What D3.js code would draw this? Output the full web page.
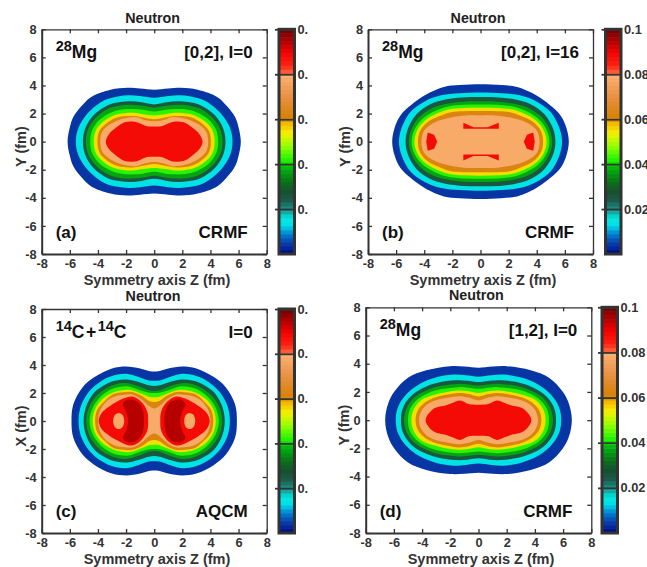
<!DOCTYPE html>
<html>
<head>
<meta charset="utf-8">
<script src="https://cdn.jsdelivr.net/npm/d3@7"></script>
<style>
  html, body { margin: 0; padding: 0; background: #fff; }
  svg { display: block; }
  text { font-family: "Liberation Sans", Arial, sans-serif; font-weight: bold; }
</style>
</head>
<body>
<div id="d3-area"></div>
<script>
// values: fm, first quadrant, outer ring to inner ring
let bandLevels = [0.004, 0.014, 0.0255, 0.037, 0.0425, 0.0555, 0.063, 0.078, 0.088];
let topLevel = 0.0945;
let axisTicks = [-8, -6, -4, -2, 0, 2, 4, 6, 8];
let barTicks = [0.02, 0.04, 0.06, 0.08, 0.1];

let ringsA = [
    [[6.16,0],[6.0,1],[5.75,1.75],[5.2,2.5],[4.5,3.17],[3.1,3.7],[1.9,3.84],[1,3.78],[0,3.7]],
    [[5.57,0],[5.4,.95],[4.74,2],[3.55,2.94],[2.6,3.22],[1.8,3.3],[1,3.25],[0,3.13]],
    [[5.07,0],[4.9,.95],[4.3,1.9],[3.3,2.6],[2.4,2.82],[1.7,2.87],[.9,2.8],[0,2.65]],
    [[4.86,0],[4.7,.9],[4.1,1.75],[3.2,2.37],[2.3,2.6],[1.6,2.63],[.8,2.55],[0,2.42]],
    [[4.55,0],[4.4,.85],[3.85,1.6],[3.0,2.1],[2.2,2.3],[1.5,2.33],[.8,2.28],[0,2.15]],
    [[4.3,0],[4.15,.8],[3.6,1.45],[2.8,1.9],[2.1,2.03],[1.5,2.05],[.8,1.95],[0,1.87]],
    [[4.03,0],[3.9,.75],[3.4,1.3],[2.7,1.7],[2,1.82],[1.4,1.82],[.7,1.7],[0,1.6]],
    [[3.84,0],[3.7,.7],[3.2,1.2],[2.5,1.55],[1.8,1.72],[1.3,1.75],[.7,1.55],[0,1.45]],
    [[3.44,0],[3.2,.55],[2.7,1.0],[2.1,1.38],[1.4,1.42],[1,1.3],[.5,1.1],[0,1.08]]
];
let ringsB = [
    [[6.28,0],[6.1,1],[5.69,1.87],[4.5,2.94],[3.6,3.5],[2.6,3.9],[1.5,4.03],[0,4.08]],
    [[5.8,0],[5.6,1],[5.0,2.1],[4,2.85],[2.8,3.3],[1.5,3.45],[0,3.5]],
    [[5.33,0],[5.15,.95],[4.55,1.95],[3.6,2.65],[2.5,3.0],[1.3,3.15],[0,3.18]],
    [[5.1,0],[4.9,.9],[4.3,1.8],[3.4,2.4],[2.4,2.7],[1.2,2.85],[0,2.87]],
    [[4.9,0],[4.7,.85],[4.1,1.65],[3.2,2.2],[2.3,2.5],[1.2,2.62],[0,2.65]],
    [[4.7,0],[4.5,.8],[3.95,1.5],[3.1,2.0],[2.2,2.3],[1.2,2.4],[0,2.42]],
    [[4.45,0],[4.3,.75],[3.75,1.4],[2.95,1.8],[2.1,2.1],[1.2,2.17],[0,2.18]],
    [[4.2,0],[4.0,.8],[3.3,1.35],[2.2,1.7],[1.2,1.85],[0,1.87]]
];
let ringsC = [
    [[5.88,0],[5.75,1.2],[5.1,2.4],[4.3,3.1],[3,3.75],[2,3.89],[1,3.75],[.3,3.55],[0,3.53]],
    [[5.38,0],[5.2,1.1],[4.6,2.14],[3.7,2.9],[2.9,3.25],[2,3.37],[1.1,3.15],[.4,2.9],[0,2.87]],
    [[5.02,0],[4.85,1.0],[4.3,2.0],[3.4,2.65],[2.7,2.9],[1.9,2.96],[1,2.75],[.4,2.55],[0,2.5]],
    [[4.83,0],[4.65,.95],[4.1,1.8],[3.3,2.4],[2.5,2.68],[1.9,2.7],[1,2.45],[.4,2.2],[0,2.15]],
    [[4.6,0],[4.4,.9],[3.9,1.65],[3.1,2.25],[2.4,2.45],[1.8,2.47],[1,2.2],[.35,2.02],[0,2.0]],
    [[4.38,0],[4.2,.85],[3.7,1.55],[3,2.0],[2.3,2.2],[1.7,2.22],[.9,1.95],[.3,1.72],[0,1.7]],
    [[4.2,0],[4.05,.8],[3.55,1.4],[2.9,1.92],[2.2,2.05],[1.6,2.07],[.9,1.8],[.35,1.42],[0,1.35]],
    [[4.0,0],[3.85,.75],[3.4,1.4],[2.8,1.75],[2.1,1.88],[1.5,1.88],[.9,1.55],[.35,1.05],[0,.9]]
];
let ringsD = [
    [[6.62,0],[6.4,1.2],[5.95,2.04],[5,3.0],[3.7,3.53],[2,3.82],[1,3.8],[0,3.72]],
    [[5.87,0],[5.7,.95],[5.1,1.85],[4.2,2.55],[3.1,3.0],[1.8,3.23],[.9,3.18],[0,3.08]],
    [[5.5,0],[5.35,.9],[4.8,1.7],[3.9,2.3],[2.9,2.65],[1.6,2.83],[.8,2.8],[0,2.7]],
    [[5.28,0],[5.1,.85],[4.55,1.6],[3.7,2.1],[2.8,2.4],[1.5,2.57],[.7,2.53],[0,2.45]],
    [[5,0],[4.85,.8],[4.3,1.5],[3.5,1.95],[2.6,2.2],[1.4,2.34],[.7,2.3],[0,2.22]],
    [[4.76,0],[4.6,.75],[4.1,1.4],[3.3,1.75],[2.5,1.95],[1.4,2.1],[.7,2.05],[0,1.92]],
    [[4.46,0],[4.3,.7],[3.8,1.25],[3.1,1.6],[2.3,1.8],[1.4,1.93],[.7,1.85],[0,1.68]],
    [[4.22,0],[4.05,.65],[3.6,1.15],[2.9,1.45],[2.1,1.6],[1.4,1.7],[.7,1.6],[0,1.4]],
    [[3.75,0],[3.2,.79],[2.3,1.05],[1.9,1.2],[1.3,1.4],[.7,1.15],[0,1.1]]
];

// closed pieces that sit off the centre of panels b and c
let sideBlobB = [[3.08,0],[3.3,.5],[3.75,.65],[3.86,0],[3.75,-.65],[3.3,-.5]];
let bowTieB = [[-1.22,1.35],[-.5,1.02],[.5,1.02],[1.3,1.35],[1.3,.92],[-1.22,.92]];
let redLobeC = [[.43,0],[.5,.7],[.9,1.35],[1.55,1.75],[2.2,1.6],[2.75,1.33],[3.4,.9],[3.75,.55],[3.95,0],[3.75,-.55],[3.4,-.9],[2.75,-1.33],[2.2,-1.6],[1.55,-1.75],[.9,-1.35],[.5,-.7]];
let darkLobeC = [[.72,0],[.82,.8],[1.1,1.3],[1.55,1.52],[2.05,1.45],[2.22,1.2],[2.0,.7],[1.85,0],[2.0,-.7],[2.22,-1.2],[2.05,-1.45],[1.55,-1.52],[1.1,-1.3],[.82,-.8]];
let holeLobeC = [[2.13,0],[2.25,.42],[2.53,.57],[2.8,.42],[2.92,0],[2.8,-.42],[2.53,-.57],[2.25,-.42]];

// colormap of the colour bars
let mapValues = [0, .002, .005, .009, .013, .016, .02, .024, .028, .032, .038, .041, .048, .054, .059, .0605, .07, .0795, .0805, .084, .09, .095, .1];
let mapColors = ["#000080", "#00209a", "#0a3fa8", "#0080d0", "#00e0e8", "#00e8e0", "#1a9088", "#1d5a48", "#185030", "#0a7018", "#00b010", "#10f000", "#90ff00", "#f8f000", "#f0b000", "#d88000", "#e89040", "#fbb070", "#ff6840", "#ff2010", "#f00000", "#b00000", "#700000"];
let colorMap = d3.scaleLinear().domain(mapValues).range(mapColors).clamp(true);

let width = 647;
let height = 567;
let darkLine = "#333";

let svg = d3.select("#d3-area").append("svg").attr("width", width).attr("height", height);
let defs = svg.append("defs");

// colour labels of the left column are cut off at the edge of the pane in the original
defs.append("clipPath").attr("id", "cut-left").append("rect")
    .attr("x", 0).attr("y", 0).attr("width", 308).attr("height", height);

let smooth = d3.line().curve(d3.curveCatmullRomClosed.alpha(0.5));
let sharp = d3.line().curve(d3.curveLinearClosed);

//从第一象限补全闭合轮廓
function fullRing (q) {
    let top = q.concat(q.slice(1, -1).reverse().map(p => [-p[0], p[1]]), [[-q[0][0], q[0][1]]]);
    let bottom = top.slice(1, -1).reverse().map(p => [p[0], -p[1]]);
    return top.concat(bottom);
}

function drawPanel (p) {
    let x = d3.scaleLinear().domain([-8, 8]).range([p.left, p.right]);
    let y = d3.scaleLinear().domain([-8, 8]).range([p.bottom, p.top]);
    let pix = pts => pts.map(d => [x(d[0]), y(d[1])]);
    let g = svg.append("g");

    p.rings.forEach((ring, i) => {
        g.append("path").attr("d", smooth(pix(fullRing(ring)))).attr("fill", colorMap(bandLevels[i]));
    });
    p.pieces.forEach(piece => {
        let line = piece.sharp ? sharp : smooth;
        g.append("path").attr("d", line(pix(piece.pts))).attr("fill", colorMap(piece.level));
    });

    // frame and inward ticks on all four sides
    let axes = [
        [d3.axisBottom(x), 0, p.bottom, true, 2],
        [d3.axisTop(x), 0, p.top, false, 1.3],
        [d3.axisLeft(y), p.left, 0, true, 2],
        [d3.axisRight(y), p.right, 0, false, 1.3]
    ];
    axes.forEach(a => {
        let axis = a[0].tickValues(axisTicks).tickSizeInner(-4).tickSizeOuter(0).tickPadding(a[3] ? 5 : 0)
            .tickFormat(a[3] ? (d => String(d)) : "");
        let ag = svg.append("g").attr("transform", `translate(${a[1]},${a[2]})`).call(axis);
        ag.selectAll(".domain").attr("stroke", darkLine).attr("stroke-width", a[4]);
        ag.selectAll(".tick line").attr("stroke", darkLine).attr("stroke-width", 1.3);
        ag.selectAll(".tick text").attr("fill", darkLine).attr("font-size", 12.8);
    });

    let label = (px, py, txt, size, anchor, fill) => svg.append("text").attr("x", px).attr("y", py)
        .attr("font-size", size).attr("text-anchor", anchor || "start").attr("fill", fill || "#111").text(txt);

    label(p.titleX, p.titleY, "Neutron", 14.3, "middle", "#222");
    label(p.xLabelX, p.bottom + 31, "Symmetry axis Z (fm)", 14.5, "middle", darkLine);
    svg.append("text")
        .attr("transform", `translate(${p.yLabelX},${(p.top + p.bottom) / 2 + 5}) rotate(-90)`)
        .attr("font-size", 14.5).attr("text-anchor", "middle").attr("fill", darkLine).text(p.yLabel);

    // superscripts sit 7px above the line
    let head = svg.append("text").attr("x", p.left + 14).attr("y", p.top + 29).attr("fill", "#111");
    let raised = false;
    p.nuclide.forEach(part => {
        let shift = (part[1] ? -7 : 0) + (raised ? 7 : 0);
        raised = part[1];
        head.append("tspan").attr("font-size", part[1] ? 14.5 : 17.5).attr("dy", shift)
            .attr("dx", part[2] || 0).text(part[0]);
    });

    label(p.right - 14, p.top + 29, p.state, 17, "end");
    label(p.left + 14, p.bottom - 16, p.tag, 17);
    label(p.right - 19, p.bottom - 16, p.model, 17, "end");

    drawBar(p);
}

function drawBar (p) {
    let barY = d3.scaleLinear().domain([0, 0.1]).range([p.bottom, p.top]);
    let bar = svg.append("g");
    if (p.clip) bar.attr("clip-path", "url(#cut-left)");
    let steps = d3.range(0, 0.1, 0.1 / 56);
    bar.selectAll("rect.step").data(steps).enter().append("rect").attr("class", "step")
        .attr("x", p.barLeft).attr("width", p.barRight - p.barLeft)
        .attr("y", d => barY(d + 0.1 / 56)).attr("height", d => barY(d) - barY(d + 0.1 / 56) + 0.5)
        .attr("fill", d => colorMap(d + 0.05 / 56));
    bar.append("rect")
        .attr("x", p.barLeft).attr("y", p.top).attr("width", p.barRight - p.barLeft).attr("height", p.bottom - p.top)
        .attr("fill", "none").attr("stroke", darkLine).attr("stroke-width", 3);

    let axis = d3.axisRight(barY).tickValues(barTicks).tickSizeInner(p.barRight - p.barLeft + 4)
        .tickSizeOuter(0).tickPadding(3).tickFormat(d => String(d));
    let ag = bar.append("g").attr("transform", `translate(${p.barLeft - 4},0)`).call(axis);
    ag.select(".domain").remove();
    ag.selectAll(".tick line").attr("stroke", darkLine).attr("stroke-width", 1.8);
    ag.selectAll(".tick text").attr("fill", darkLine).attr("font-size", 12.8);
}

drawPanel({
    left: 41.7, right: 266.7, top: 29.3, bottom: 254, titleX: 152.7, titleY: 22.7, xLabelX: 157, yLabelX: 25.6,
    barLeft: 279, barRight: 294.5, clip: true, rings: ringsA, pieces: [],
    yLabel: "Y (fm)", nuclide: [["28", true], ["Mg", false]], state: "[0,2], I=0", tag: "(a)", model: "CRMF"
});
drawPanel({
    left: 368, right: 593, top: 29.3, bottom: 254, titleX: 478, titleY: 22.7, xLabelX: 483, yLabelX: 349.7,
    barLeft: 605.5, barRight: 621, clip: false, rings: ringsB,
    pieces: [
        {level: bandLevels[8], pts: sideBlobB, sharp: true},
        {level: bandLevels[8], pts: sideBlobB.map(d => [-d[0], d[1]]), sharp: true},
        {level: bandLevels[8], pts: bowTieB, sharp: true},
        {level: bandLevels[8], pts: bowTieB.map(d => [d[0], -d[1]]), sharp: true}
    ],
    yLabel: "Y (fm)", nuclide: [["28", true], ["Mg", false]], state: "[0,2], I=16", tag: "(b)", model: "CRMF"
});
drawPanel({
    left: 41.7, right: 266.7, top: 309, bottom: 533, titleX: 153, titleY: 301.3, xLabelX: 157, yLabelX: 25.6,
    barLeft: 279, barRight: 294.5, clip: true, rings: ringsC,
    pieces: [
        {level: bandLevels[8], pts: redLobeC},
        {level: bandLevels[8], pts: redLobeC.map(d => [-d[0], d[1]])},
        {level: topLevel, pts: darkLobeC},
        {level: topLevel, pts: darkLobeC.map(d => [-d[0], d[1]])},
        {level: bandLevels[7], pts: holeLobeC},
        {level: bandLevels[7], pts: holeLobeC.map(d => [-d[0], d[1]])}
    ],
    yLabel: "X (fm)", nuclide: [["14", true], ["C", false], ["+", false, 1.5], ["14", true, 1.5], ["C", false]], state: "I=0", tag: "(c)", model: "AQCM"
});
drawPanel({
    left: 365.7, right: 591.3, top: 307.3, bottom: 533, titleX: 476.3, titleY: 300.3, xLabelX: 481, yLabelX: 349,
    barLeft: 602, barRight: 617.5, clip: false, rings: ringsD, pieces: [],
    yLabel: "Y (fm)", nuclide: [["28", true], ["Mg", false]], state: "[1,2], I=0", tag: "(d)", model: "CRMF"
});
</script>
</body>
</html>
